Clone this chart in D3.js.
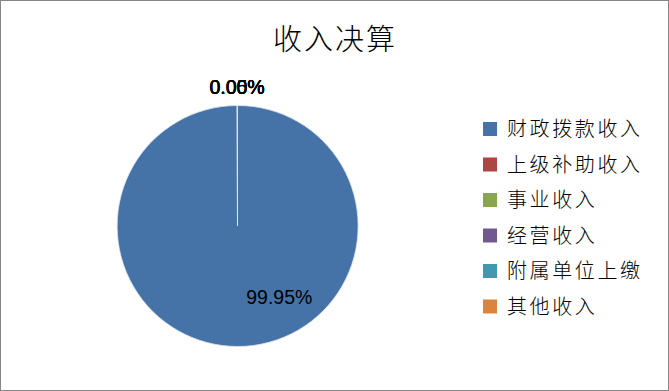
<!DOCTYPE html>
<html>
<head>
<meta charset="utf-8">
<script src="https://cdn.jsdelivr.net/npm/d3@7"></script>
<style>
body{margin:0;background:#fff;}
svg{display:block;}
</style>
</head>
<body>
<div id="plot"></div>
<script>
// chart data
var categories = ["财政拨款收入", "上级补助收入", "事业收入", "经营收入", "附属单位上缴", "其他收入"]
var values = [99.95, 0, 0, 0, 0, 0.05]
var labels = ["99.95%", "0.00%", "0.00%", "0.00%", "0.00%", "0.05%"]
var colors = ["#4572a7", "#aa4643", "#89a54e", "#71588f", "#4198af", "#db843d"]

var width = 669, height = 391
var cx = 237.5, cy = 226, radius = 120.5

var svg = d3.select("#plot").append("svg")
	.attr("width", width)
	.attr("height", height)

svg.append("rect")
	.attr("x", 0.5).attr("y", 0.5)
	.attr("width", width - 1).attr("height", height - 1)
	.attr("fill", "#fff")
	.attr("stroke", "#868686")

svg.append("text")
	.attr("x", 335).attr("y", 50)
	.attr("text-anchor", "middle")
	.style("font-family", "'Noto Sans CJK SC'")
	.style("font-size", "29px")
	.style("font-weight", 300)
	.style("letter-spacing", "2px")
	.text("收入决算")

var data = categories.map(function(c, i){ return {name: c, value: values[i], label: labels[i], color: colors[i]} })

var pie = d3.pie().sort(null).value(function(d){ return d.value })
var arcs = pie(data)

var arc = d3.arc().innerRadius(0).outerRadius(radius)
var g = svg.append("g").attr("transform", "translate(" + cx + "," + cy + ")")

g.selectAll("path")
	.data(arcs)
	.enter()
	.append("path")
		.attr("d", arc)
		.attr("fill", function(d){ return d.data.color })
		.attr("stroke", "#dfe6ef")
		.attr("stroke-width", function(d){ return d.data.value > 0 ? 0.8 : 0 })

// labels: big slice inside (best fit), tiny slices outside at top
var outer = d3.arc().innerRadius(radius + 19).outerRadius(radius + 19)

g.selectAll("text.lbl")
	.data(arcs)
	.enter()
	.append("text")
		.attr("class", "lbl")
		.attr("transform", function(d){
			var big = d.endAngle - d.startAngle > Math.PI
			var p
			if (big){
				var a = d.startAngle + (d.endAngle - d.startAngle) * 0.415
				p = [Math.sin(a) * radius * 0.68, -Math.cos(a) * radius * 0.68]
			} else {
				p = outer.centroid(d)
			}
			return "translate(" + p[0] + "," + p[1] + ")"
		})
		.attr("dy", "0.36em")
		.attr("text-anchor", "middle")
		.style("font-family", "Arial, 'Liberation Sans', sans-serif")
		.style("font-size", "19.5px")
		.text(function(d){ return d.data.label })

// legend
var legend = svg.append("g").attr("transform", "translate(483,129)")
var row = legend.selectAll("g")
	.data(data)
	.enter()
	.append("g")
		.attr("transform", function(d, i){ return "translate(0," + (i * 35.5) + ")" })

row.append("rect")
	.attr("x", 0).attr("y", -7)
	.attr("width", 14).attr("height", 14)
	.attr("fill", function(d){ return d.color })

row.append("text")
	.attr("x", 24).attr("y", 0)
	.attr("dy", "0.36em")
	.style("font-family", "'Noto Sans CJK SC'")
	.style("font-size", "20px")
	.style("font-weight", 300)
	.style("letter-spacing", "2.6px")
	.text(function(d){ return d.name })
</script>
</body>
</html>
